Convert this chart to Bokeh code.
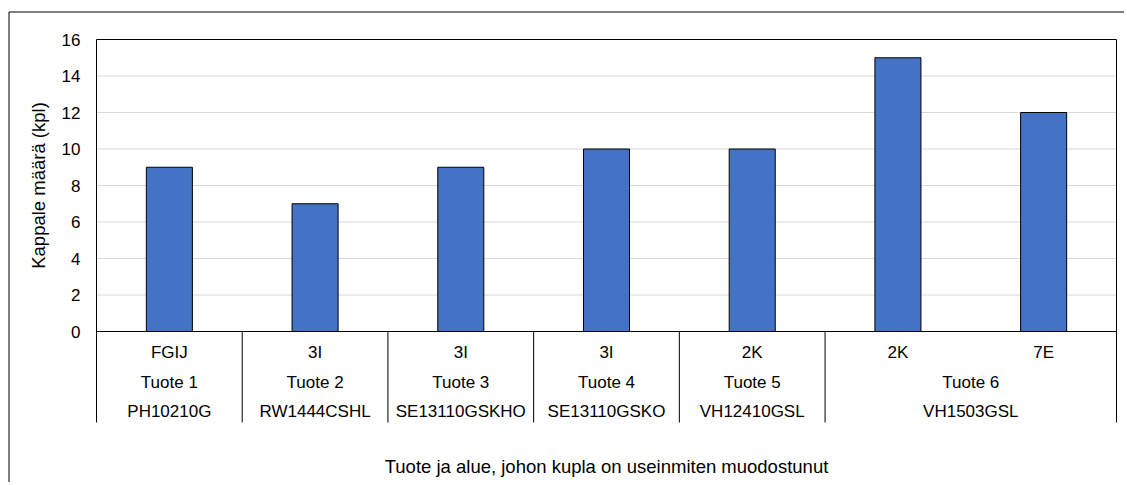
import math
from bokeh.plotting import figure
from bokeh.models import Range1d
from bokeh.core.properties import value
from bokeh.embed import file_html
from bokeh.resources import INLINE

# ---- data ----
areas = ["FGIJ", "3I", "3I", "3I", "2K", "2K", "7E"]
products = ["Tuote 1", "Tuote 2", "Tuote 3", "Tuote 4", "Tuote 5", "Tuote 6", "Tuote 6"]
codes = ["PH10210G", "RW1444CSHL", "SE13110GSKHO", "SE13110GSKO", "VH12410GSL", "VH1503GSL", "VH1503GSL"]
counts = [9, 7, 9, 10, 10, 15, 12]
y_ticks = [0, 2, 4, 6, 8, 10, 12, 14, 16]
y_title = "Kappale määrä (kpl)"
x_title = "Tuote ja alue, johon kupla on useinmiten muodostunut"

FONT = "Liberation Sans"
n = len(counts)
ymax = y_ticks[-1]

# ---- layout (canvas pixels) ----
W, H = 1124, 482
PA_LEFT, PA_RIGHT = 96, 1116      # plot area x extent
PA_TOP, PA_ZERO = 39, 331         # plot area y extent (top, value 0)
px_x = (PA_RIGHT - PA_LEFT) / n
px_y = (PA_ZERO - PA_TOP) / ymax


def dx(px):  # canvas px -> x data
    return (px - PA_LEFT) / px_x


def dy(py):  # canvas px -> y data
    return (PA_ZERO - py) / px_y


p = figure(width=W, height=H, output_backend="svg", toolbar_location=None,
           x_range=Range1d(dx(0), dx(W)), y_range=Range1d(dy(H), dy(0)),
           min_border=0, min_border_left=0, min_border_right=0,
           min_border_top=0, min_border_bottom=0,
           background_fill_color="white", border_fill_color="white")
p.outline_line_color = None
p.axis.visible = False
p.grid.visible = False

# chart-area border (left and top visible)
p.segment(x0=[dx(8.5), dx(8.5)], x1=[dx(8.5), dx(W + 5)],
          y0=[dy(H + 5), dy(11.5)], y1=[dy(11.5), dy(11.5)],
          line_color="black", line_width=1)

# gridlines
grid_y = [t for t in y_ticks if 0 < t < ymax]
p.segment(x0=[0] * len(grid_y), x1=[n] * len(grid_y), y0=grid_y, y1=grid_y,
          line_color="#d9d9d9", line_width=1)

# bars
xs = [i + 0.5 for i in range(n)]
p.vbar(x=xs, top=counts, bottom=0, width=0.316, fill_color="#4472C4",
       line_color="black", line_width=1)

# plot area border + category axis
cat_bottom = dy(422)
p.segment(x0=[0, 0], x1=[n, n], y0=[ymax, 0], y1=[ymax, 0],
          line_color="black", line_width=1)
p.segment(x0=[0, n], x1=[0, n], y0=[cat_bottom, cat_bottom], y1=[ymax, ymax],
          line_color="black", line_width=1)

# group boundaries from product labels
groups = []
start = 0
for i in range(1, n + 1):
    if i == n or products[i] != products[start]:
        groups.append((start, i, products[start], codes[start]))
        start = i
sep_x = [g[0] for g in groups[1:]]
p.segment(x0=sep_x, x1=sep_x, y0=[cat_bottom] * len(sep_x), y1=[0] * len(sep_x),
          line_color="black", line_width=1)

common = dict(text_font=value(FONT), text_font_size="17px", text_color="black",
              text_align="center", text_baseline="middle")
p.text(x=xs, y=[dy(352)] * n, text=areas, **common)
gx = [(g[0] + g[1]) / 2 for g in groups]
p.text(x=gx, y=[dy(381.5)] * len(groups), text=[g[2] for g in groups], **common)
p.text(x=gx, y=[dy(411)] * len(groups), text=[g[3] for g in groups], **common)

# y tick labels
p.text(x=[dx(80)] * len(y_ticks), y=y_ticks, text=[str(t) for t in y_ticks],
       text_font=value(FONT), text_font_size="17px", text_color="black",
       text_align="right", text_baseline="middle")

# axis titles
p.text(x=[n / 2], y=[dy(466)], text=[x_title],
       text_font=value(FONT), text_font_size="18.5px", text_color="black",
       text_align="center", text_baseline="middle")
p.text(x=[dx(38)], y=[ymax / 2], text=[y_title], angle=math.pi / 2,
       text_font=value(FONT), text_font_size="18.5px", text_color="black",
       text_align="center", text_baseline="middle")

open("out.html", "w").write(file_html(p, INLINE))
